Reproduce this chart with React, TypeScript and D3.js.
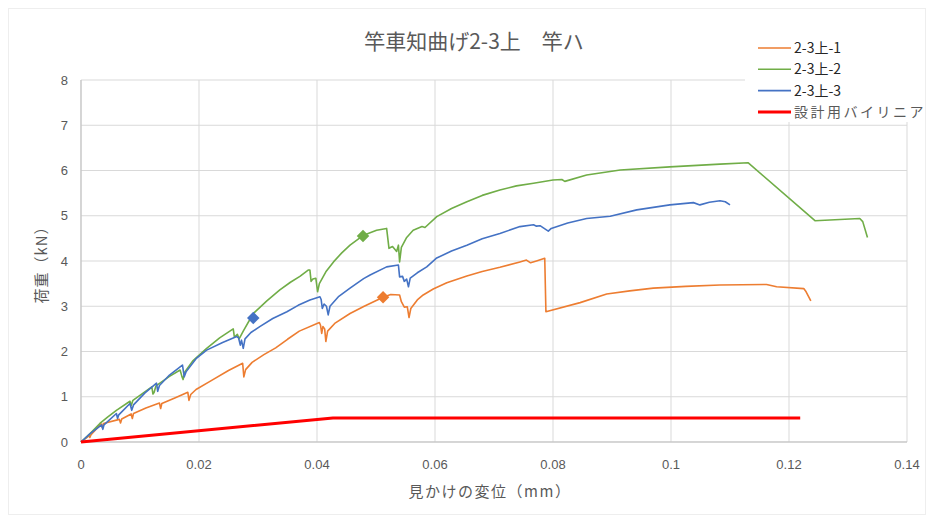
import React from "react";
import * as d3 from "d3";

const W = 934;
const H = 523;

const title = "竿車知曲げ2-3上　竿ハ";
const xTitle = "見かけの変位（mm）";
const yTitle = "荷重（kN）";

const xTicks = [0, 0.02, 0.04, 0.06, 0.08, 0.1, 0.12, 0.14];
const xTickLabels = ["0", "0.02", "0.04", "0.06", "0.08", "0.1", "0.12", "0.14"];
const yTicks = [0, 1, 2, 3, 4, 5, 6, 7, 8];

const seriesNames = ["2-3上-1", "2-3上-2", "2-3上-3", "設計用バイリニア"];
const seriesColors = ["#ED7D31", "#70AD47", "#4472C4", "#FF0000"];

const s1: [number, number][] = [
  [0, 0], [0.0014, 0.14], [0.0015, 0.1], [0.0017, 0.16], [0.0034, 0.4], [0.0036, 0.32], [0.0038, 0.41],
  [0.0065, 0.5], [0.0067, 0.42], [0.0069, 0.51], [0.0085, 0.62], [0.0087, 0.52], [0.0089, 0.63],
  [0.011, 0.75], [0.0133, 0.86], [0.0135, 0.74], [0.0137, 0.85], [0.016, 0.98], [0.0181, 1.1], [0.0183, 0.92],
  [0.0186, 1.05], [0.0195, 1.16], [0.022, 1.35], [0.025, 1.58],
  [0.0274, 1.74], [0.0276, 1.44], [0.0279, 1.6], [0.029, 1.76], [0.031, 1.93], [0.033, 2.08], [0.035, 2.27],
  [0.037, 2.45], [0.0404, 2.64], [0.0406, 2.58], [0.0408, 2.4], [0.041, 2.55], [0.0413, 2.5], [0.0415, 2.22],
  [0.0418, 2.45], [0.043, 2.62], [0.0456, 2.84], [0.048, 3.0], [0.0512, 3.2], [0.0525, 3.26], [0.054, 3.25],
  [0.0543, 3.1], [0.0548, 2.98], [0.0553, 2.99], [0.0556, 2.75], [0.0559, 2.95], [0.057, 3.14], [0.058, 3.25],
  [0.0597, 3.38], [0.062, 3.52], [0.0654, 3.67], [0.068, 3.77], [0.071, 3.86], [0.0744, 3.98], [0.0755, 4.02],
  [0.0762, 3.96], [0.0772, 4.0], [0.0786, 4.06], [0.0788, 2.88], [0.0846, 3.08], [0.0891, 3.27], [0.093, 3.34],
  [0.097, 3.4], [0.1025, 3.44], [0.1083, 3.47], [0.1162, 3.48], [0.1179, 3.43], [0.1225, 3.39], [0.1229, 3.32],
  [0.1237, 3.12],
];

const s2: [number, number][] = [
  [0, 0], [0.0015, 0.18], [0.0032, 0.41], [0.0045, 0.55], [0.006, 0.7], [0.0083, 0.9], [0.0085, 0.8], [0.0088, 0.92],
  [0.012, 1.22], [0.0122, 1.06], [0.0124, 1.1], [0.0127, 1.24], [0.015, 1.45], [0.0168, 1.59], [0.0171, 1.45],
  [0.0173, 1.38], [0.0176, 1.55], [0.019, 1.8], [0.0213, 2.07], [0.0235, 2.3], [0.0258, 2.5], [0.026, 2.32],
  [0.0265, 2.38], [0.0268, 2.28], [0.0275, 2.45], [0.0292, 2.84], [0.0315, 3.12], [0.0337, 3.36], [0.0355, 3.53],
  [0.0371, 3.66], [0.0385, 3.8], [0.0388, 3.8], [0.039, 3.55], [0.0393, 3.6], [0.0398, 3.62], [0.0401, 3.32],
  [0.0404, 3.5], [0.0415, 3.76], [0.0428, 3.98], [0.0442, 4.18], [0.0456, 4.35], [0.0479, 4.57], [0.0501, 4.68],
  [0.0518, 4.72], [0.0522, 4.28], [0.0528, 4.32], [0.0535, 4.21], [0.0538, 4.35], [0.054, 3.98], [0.0543, 4.3],
  [0.0552, 4.52], [0.0563, 4.68], [0.0578, 4.76], [0.0583, 4.74], [0.0603, 4.98], [0.0628, 5.16], [0.0654, 5.31],
  [0.068, 5.45], [0.071, 5.57], [0.0738, 5.66], [0.0767, 5.72], [0.08, 5.79], [0.0815, 5.8], [0.082, 5.76],
  [0.0857, 5.9], [0.0914, 6.01], [0.0998, 6.08], [0.1083, 6.14], [0.1131, 6.17], [0.1244, 4.89], [0.132, 4.94],
  [0.1325, 4.87], [0.1333, 4.52],
];

const s3: [number, number][] = [
  [0, 0], [0.0015, 0.18], [0.0035, 0.38], [0.0037, 0.28], [0.0039, 0.38], [0.006, 0.63], [0.0062, 0.52],
  [0.0064, 0.6], [0.0083, 0.85], [0.0086, 0.7], [0.0089, 0.82], [0.0108, 1.08], [0.0128, 1.3], [0.013, 1.12],
  [0.0133, 1.25], [0.015, 1.48], [0.0168, 1.66], [0.0172, 1.7], [0.0175, 1.44], [0.0178, 1.55], [0.0195, 1.84],
  [0.0213, 2.03], [0.024, 2.2], [0.0264, 2.33], [0.0267, 2.3], [0.027, 2.14], [0.0272, 2.25], [0.0275, 2.07],
  [0.0278, 2.28], [0.0288, 2.42], [0.0303, 2.55], [0.0325, 2.73], [0.0349, 2.88], [0.0368, 3.02], [0.0388, 3.14],
  [0.0405, 3.21], [0.0407, 3.15], [0.0409, 2.95], [0.0412, 3.05], [0.0416, 3.0], [0.0419, 2.81], [0.0422, 3.0],
  [0.0437, 3.22], [0.0456, 3.4], [0.0479, 3.61], [0.049, 3.69], [0.0518, 3.87], [0.0538, 3.91], [0.054, 3.65],
  [0.0545, 3.66], [0.0548, 3.55], [0.0552, 3.6], [0.0555, 3.43], [0.0558, 3.62], [0.057, 3.74], [0.0586, 3.87],
  [0.0602, 4.06], [0.0628, 4.22], [0.0654, 4.35], [0.068, 4.49], [0.071, 4.61], [0.0744, 4.76], [0.0767, 4.8],
  [0.0772, 4.77], [0.0778, 4.78], [0.0792, 4.66], [0.0797, 4.72], [0.0825, 4.84], [0.0857, 4.94], [0.0897, 4.99],
  [0.0942, 5.13], [0.0998, 5.24], [0.1038, 5.29], [0.1049, 5.24], [0.1065, 5.3], [0.1083, 5.33], [0.1092, 5.31],
  [0.11, 5.24],
];

const s4: [number, number][] = [[0, 0], [0.0427, 0.53], [0.1219, 0.53]];

const markerPoints: [number, number][] = [[0.0512, 3.2], [0.0478, 4.55], [0.0292, 2.74]];

const allSeries = [s1, s2, s3, s4];

const jp = "'Noto Sans CJK JP', 'Noto Sans', sans-serif";
const num = "'Liberation Sans', 'Noto Sans', sans-serif";

export default function App() {
  const left = 81, right = 907, top = 80, bottom = 442;
  const x = d3.scaleLinear().domain([0, 0.14]).range([left, right]);
  const y = d3.scaleLinear().domain([0, 8]).range([bottom, top]);
  const line = d3.line<[number, number]>().x((d) => x(d[0])).y((d) => y(d[1]));
  const diamond = d3.symbol().type(d3.symbolDiamond2).size(100)() as string;

  const legX = 758, legY0 = 48, legDy = 21.3;

  return (
    <div style={{ position: "absolute", left: 0, top: 0 }}>
      <svg width={W} height={H} style={{ display: "block", background: "#fff" }}>
        <rect x={8.5} y={8.5} width={W - 17} height={H - 17} fill="#fff" stroke="#eeeeee" />
        {yTicks.map((t) => (
          <line key={"gy" + t} x1={left} x2={right} y1={y(t)} y2={y(t)} stroke="#d9d9d9" strokeWidth={1} />
        ))}
        {xTicks.map((t) => (
          <line key={"gx" + t} x1={x(t)} x2={x(t)} y1={top} y2={bottom} stroke="#d9d9d9" strokeWidth={1} />
        ))}
        <line x1={left} x2={left} y1={top} y2={bottom} stroke="#bfbfbf" />
        <line x1={left} x2={right} y1={bottom} y2={bottom} stroke="#bfbfbf" />
        {allSeries.map((s, i) => (
          <path key={"s" + i} d={line(s) as string} fill="none" stroke={seriesColors[i]}
            strokeWidth={i === 3 ? 3 : 1.6} strokeLinejoin="round" />
        ))}
        {markerPoints.map((p, i) => (
          <path key={"m" + i} d={diamond} transform={`translate(${x(p[0])},${y(p[1])})`} fill={seriesColors[i]} />
        ))}
        {yTicks.map((t) => (
          <text key={"ty" + t} x={68} y={y(t)} dy="0.35em" textAnchor="end" fontFamily={num} fontSize={13} fill="#595959">
            {t}
          </text>
        ))}
        {xTicks.map((t, i) => (
          <text key={"tx" + t} x={x(t)} y={464} dy="0.35em" textAnchor="middle" fontFamily={num} fontSize={13} fill="#595959">
            {xTickLabels[i]}
          </text>
        ))}
        <text x={474} y={42} dy="0.35em" textAnchor="middle" fontFamily={jp} fontSize={21} fill="#595959">
          {title}
        </text>
        <text x={490} y={492} dy="0.35em" textAnchor="middle" fontFamily={jp} fontSize={15} letterSpacing={1.5} fill="#595959">
          {xTitle}
        </text>
        <text transform={`translate(42,261) rotate(-90)`} dy="0.35em" textAnchor="middle" fontFamily={jp} fontSize={15} letterSpacing={1} fill="#595959">
          {yTitle}
        </text>
        <rect x={745} y={34} width={180} height={88} fill="#fff" />
        {seriesNames.map((n, i) => (
          <g key={"lg" + i}>
            <line x1={legX} x2={legX + 33} y1={legY0 + i * legDy} y2={legY0 + i * legDy}
              stroke={seriesColors[i]} strokeWidth={i === 3 ? 3 : 1.6} />
            <text x={legX + 36} y={legY0 + i * legDy} dy="0.35em" fontFamily={jp} fontSize={14}
              letterSpacing={i === 3 ? 2.5 : 0}
              fill={i === 3 ? "#595959" : "#262626"}>
              {n}
            </text>
          </g>
        ))}
      </svg>
    </div>
  );
}
